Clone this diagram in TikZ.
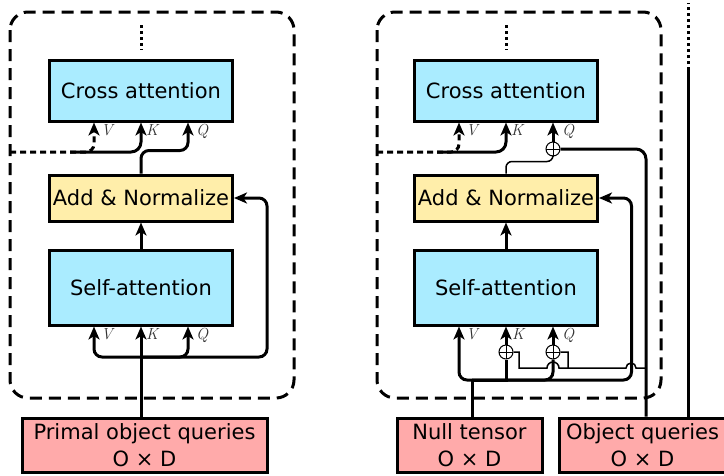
\documentclass[tikz,border=0pt]{standalone}
\usepackage{fontspec}
\setsansfont{DejaVu Sans}
\usepackage{tikz}
\usetikzlibrary{arrows.meta}

\definecolor{attncol}{RGB}{170,236,255}
\definecolor{normcol}{RGB}{255,238,170}
\definecolor{incol}{RGB}{255,170,170}

\begin{document}
\begin{tikzpicture}[x=1pt,y=-1pt,
	every node/.style={font=\sffamily\fontsize{21}{27}\selectfont},
	block/.style={draw, line width=3pt, inner sep=0pt, align=center},
	attn/.style={block, fill=attncol, minimum width=183pt},
	norm/.style={block, fill=normcol, minimum width=183pt, minimum height=46pt},
	inbox/.style={block, fill=incol, minimum height=54pt},
	arr/.style={line width=3pt, -{Stealth[length=13pt,width=11pt,inset=3.5pt]}},
	wire/.style={line width=3pt},
	thinwire/.style={line width=1.5pt},
	memline/.style={dash pattern=on 6pt off 4pt},
	dotline/.style={line width=3pt, dash pattern=on 3pt off 3pt},
	frame/.style={line width=3pt, dash pattern=on 12pt off 7pt, rounded corners=18pt},
	lbl/.style={font=\rmfamily\itshape\fontsize{16}{16}\selectfont, text=black!80, anchor=north west, inner sep=0pt},
	plus/.style={circle, draw, line width=1pt, minimum size=14pt, inner sep=0pt,
		path picture={\draw[line width=1pt] (path picture bounding box.north) -- (path picture bounding box.south)
			(path picture bounding box.west) -- (path picture bounding box.east);}}]
	\useasboundingbox (0,0) rectangle (724,475);

	% decoder layer without object queries
	\draw[frame] (10,12) rectangle (294,398);
	\node[attn, minimum height=61pt] (ca1) at (141,90.5) {Cross attention};
	\node[norm] (an1) at (141,198) {Add \& Normalize};
	\node[attn, minimum height=75pt] (sa1) at (141,287.5) {Self-attention};
	\node[inbox, minimum width=245pt] (pq) at (144.5,445) {Primal object queries\\O × D};
	\draw[dotline] (141,25) -- (141,50);

	\coordinate (mem1) at (10,152);
	\draw[arr, memline, rounded corners=8pt] (mem1) -| ([xshift=-47pt]ca1.south);
	\draw[arr, rounded corners=10pt] (70,152) -| (ca1.south);
	\draw[arr, rounded corners=8pt] (an1.north) -- ++(0,-23) -| ([xshift=47pt]ca1.south);
	\draw[arr] (sa1.north) -- (an1.south);

	\coordinate (j1) at (141,357);
	\draw[arr] (sa1.south |- pq.north) -- (sa1.south);
	\draw[arr, rounded corners=8pt] (j1) -| ([xshift=-47pt]sa1.south);
	\draw[arr, rounded corners=8pt] (j1) -| ([xshift=47pt]sa1.south);
	\draw[arr, rounded corners=8pt] (j1) -| ([xshift=33pt]an1.east) -- (an1.east);

	\node[lbl] at ([xshift=-40pt,yshift=-2pt]ca1.south) {V};
	\node[lbl] at ([xshift=5pt,yshift=-2pt]ca1.south) {K};
	\node[lbl] at ([xshift=55pt,yshift=-2pt]ca1.south) {Q};
	\node[lbl] at ([xshift=-40pt,yshift=-2pt]sa1.south) {V};
	\node[lbl] at ([xshift=5pt,yshift=-2pt]sa1.south) {K};
	\node[lbl] at ([xshift=55pt,yshift=-2pt]sa1.south) {Q};

	% decoder layer with object queries
	\draw[frame] (377,12) rectangle (661,398);
	\node[attn, minimum height=61pt] (ca2) at (506,90.5) {Cross attention};
	\node[norm] (an2) at (506,198) {Add \& Normalize};
	\node[attn, minimum height=75pt] (sa2) at (506,287.5) {Self-attention};
	\node[inbox, minimum width=145pt] (nt) at (469.5,445) {Null tensor\\O × D};
	\node[inbox, minimum width=167pt] (oq) at (642.5,445) {Object queries\\O × D};
	\draw[dotline] (506,25) -- (506,50);

	\coordinate (mem2) at (377,152);
	\draw[arr, memline, rounded corners=8pt] (mem2) -| ([xshift=-47pt]ca2.south);
	\draw[arr, rounded corners=10pt] (437,152) -| (ca2.south);
	\node[plus] (qplus2) at (553,149) {};
	\draw[thinwire, rounded corners=6pt] (an2.north) -- ++(0,-12) -| (qplus2.south);
	\draw[arr] (qplus2.north) -- ([xshift=47pt]ca2.south);
	\draw[arr] (sa2.north) -- (an2.south);

	% object queries feed
	\coordinate (oqtop) at (688,70);
	\draw[wire, rounded corners=10pt] ([xshift=3.5pt]oq.north) |- (qplus2.east);
	\draw[wire] ([xshift=45.5pt]oq.north) -- (oqtop);
	\draw[dotline] (oqtop) -- (688,3);

	\coordinate (j2) at (472,380);
	\node[plus] (kplus) at (506,352) {};
	\node[plus] (qplus) at (553,352) {};
	\draw[wire] (j2 |- nt.north) -- (j2);
	\draw[arr, rounded corners=8pt] (j2) -| ([xshift=-47pt]sa2.south);
	\draw[wire] (j2) -| (kplus.south);
	\draw[arr] (kplus.north) -- (sa2.south);
	\draw[wire, rounded corners=8pt] (j2) -| (qplus.south);
	\draw[arr] (qplus.north) -- ([xshift=47pt]sa2.south);
	\draw[arr, rounded corners=8pt] (j2) -| ([xshift=32.5pt]an2.east) -- (an2.east);

	% positional branch with hops
	\coordinate (pe) at (646,368);
	\draw[thinwire] (pe) -- (636,368) arc[start angle=0, end angle=180, radius=5pt]
		-- (568,368) -- (568,352) -- (qplus.east);
	\draw[thinwire] (568,368) -- (559,368) arc[start angle=0, end angle=180, radius=6pt]
		-- (519,368) -- (519,352) -- (kplus.east);

	\node[lbl] at ([xshift=-40pt,yshift=-2pt]ca2.south) {V};
	\node[lbl] at ([xshift=5pt,yshift=-2pt]ca2.south) {K};
	\node[lbl] at ([xshift=56pt,yshift=-2pt]ca2.south) {Q};
	\node[lbl] at ([xshift=-40pt,yshift=-2pt]sa2.south) {V};
	\node[lbl] at ([xshift=6pt,yshift=-2pt]sa2.south) {K};
	\node[lbl] at ([xshift=56pt,yshift=-2pt]sa2.south) {Q};
\end{tikzpicture}
\end{document}
